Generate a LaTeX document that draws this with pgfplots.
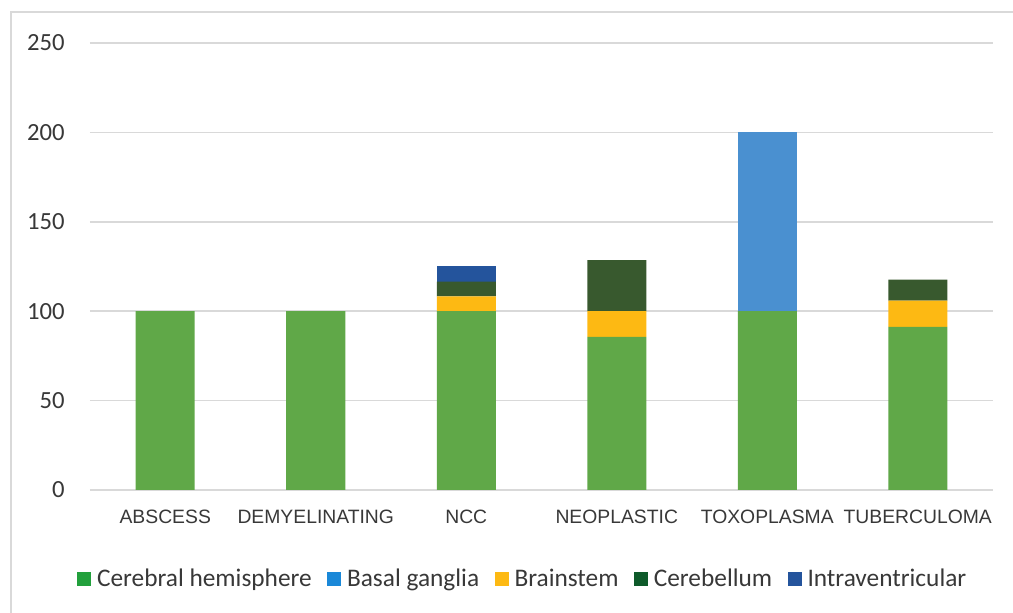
\documentclass[border=0pt]{standalone}
\usepackage{fontspec}
\setmainfont{Carlito}
\newfontfamily\arialfont{Liberation Sans}
\usepackage{pgfplots}
\pgfplotsset{compat=1.18}
\definecolor{cerebral}{HTML}{60A848}
\definecolor{cerebralL}{HTML}{22A03C}
\definecolor{basal}{HTML}{4A90D0}
\definecolor{basalL}{HTML}{1A88D8}
\definecolor{brainstem}{HTML}{FDB913}
\definecolor{cerebellum}{HTML}{38592E}
\definecolor{cerebellumL}{HTML}{0E5A2A}
\definecolor{intra}{HTML}{24549C}
\definecolor{gridgray}{HTML}{D9D9D9}
\definecolor{txt}{HTML}{383838}
\begin{document}
\begin{tikzpicture}
\path[use as bounding box] (-67.5pt,-92.25pt) rectangle (692.25pt,367.5pt);
\draw[gridgray, line width=1.5pt] (-59.25pt,-92.25pt) -- (-59.25pt,358.5pt) -- (692.25pt,358.5pt);
\begin{axis}[
  at={(0pt,0pt)}, anchor=south west,
  scale only axis,
  width=677.25pt, height=335.25pt,
  ybar stacked,
  bar width=44.25pt,
  xmin=-0.5, xmax=5.5,
  ymin=0, ymax=250,
  ytick={0,50,100,150,200,250},
  xtick={0,1,2,3,4,5},
  xticklabels={ABSCESS,DEMYELINATING,NCC,NEOPLASTIC,TOXOPLASMA,TUBERCULOMA},
  ymajorgrids,
  major grid style={draw=gridgray, line width=1.3pt},
  axis line style={draw=none},
  major tick length=0pt,
  tick style={draw=none},
  /pgf/number format/assume math mode=true,
  yticklabel style={font=\fontsize{18.5}{20}\selectfont, text=txt, anchor=east, inner sep=0pt, xshift=-18.75pt},
  xticklabel style={font=\arialfont\fontsize{14.5}{16}\selectfont, text=txt, anchor=north, inner sep=0pt, yshift=-15pt},
  legend columns=5,
  legend style={at={(0.4795,-0.199)}, anchor=center, draw=none, fill=none,
    font=\fontsize{19}{21}\selectfont, text=txt,
    /tikz/every even column/.append style={column sep=9.5pt}},
]
\addplot[fill=cerebral, draw=none, legend image code/.code={\fill[cerebralL] (0pt,-5.25pt) rectangle (10.5pt,5.25pt); \path (13pt,0pt);}] coordinates {(0,100) (1,100) (2,100) (3,85.7) (4,100) (5,91.2)};
\addplot[fill=basal, draw=none, legend image code/.code={\fill[basalL] (0pt,-5.25pt) rectangle (10.5pt,5.25pt); \path (13pt,0pt);}] coordinates {(0,0) (1,0) (2,0) (3,0) (4,100) (5,0)};
\addplot[fill=brainstem, draw=none, legend image code/.code={\fill[brainstem] (0pt,-5.25pt) rectangle (10.5pt,5.25pt); \path (13pt,0pt);}] coordinates {(0,0) (1,0) (2,8.3) (3,14.3) (4,0) (5,14.7)};
\addplot[fill=cerebellum, draw=none, legend image code/.code={\fill[cerebellumL] (0pt,-5.25pt) rectangle (10.5pt,5.25pt); \path (13pt,0pt);}] coordinates {(0,0) (1,0) (2,8.3) (3,28.6) (4,0) (5,11.8)};
\addplot[fill=intra, draw=none, legend image code/.code={\fill[intra] (0pt,-5.25pt) rectangle (10.5pt,5.25pt); \path (13pt,0pt);}] coordinates {(0,0) (1,0) (2,8.4) (3,0) (4,0) (5,0)};
\legend{Cerebral hemisphere, Basal ganglia, Brainstem, Cerebellum, Intraventricular}
\end{axis}
\end{tikzpicture}
\end{document}
